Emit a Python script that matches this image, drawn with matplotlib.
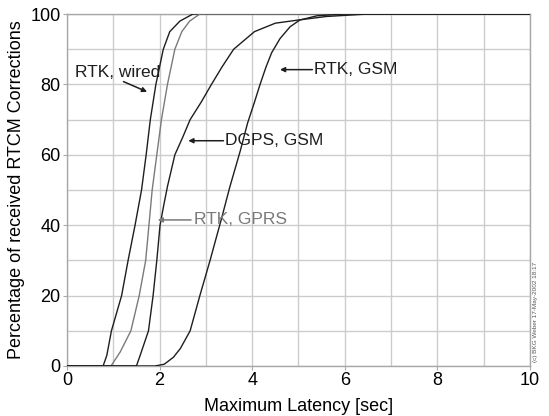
import matplotlib
matplotlib.use("Agg")
import matplotlib.pyplot as plt
from matplotlib.ticker import MultipleLocator

plt.rcParams['font.family'] = ['Liberation Sans', 'DejaVu Sans']

# ---- data (latency in sec, cumulative percentage) ----
wired_x = [0, 0.78, 0.86, 0.96, 1.18, 1.32, 1.47, 1.61, 1.71, 1.80, 1.92, 2.08, 2.22, 2.44, 2.72, 10]
wired_y = [0, 0, 3, 10, 20, 30, 40, 50, 60, 70, 80, 90, 95, 98, 100, 100]

gprs_x = [0, 0.95, 1.15, 1.38, 1.56, 1.70, 1.77, 1.84, 1.94, 2.04, 2.17, 2.33, 2.48, 2.65, 2.87, 10]
gprs_y = [0, 0, 4, 10, 20, 30, 40, 50, 60, 70, 80, 90, 95, 98, 100, 100]

dgps_x = [0, 1.50, 1.58, 1.76, 1.86, 1.94, 2.01, 2.08, 2.17, 2.33, 2.50, 2.66, 2.90, 3.12, 3.35,
          3.60, 3.78, 4.05, 4.50, 5.00, 5.60, 6.50, 10]
dgps_y = [0, 0, 3, 10, 20, 30, 40, 45, 51, 60, 65, 70, 75, 80, 85, 90, 92, 95, 97.4, 98.3, 99.3, 100, 100]

gsm_x = [0, 1.90, 2.10, 2.30, 2.45, 2.66, 2.87, 3.09, 3.34, 3.52, 3.74, 3.90, 4.05, 4.17,
         4.30, 4.42, 4.60, 4.82, 5.03, 5.40, 6.00, 10]
gsm_y = [0, 0, 0.5, 2.5, 5, 10, 20, 30, 42, 51, 61, 69, 75, 80, 85, 89, 93, 96.4, 98.3, 99.5, 100, 100]

x_ticks = [0, 2, 4, 6, 8, 10]
y_ticks = [0, 20, 40, 60, 80, 100]

dark = '#1e1e1e'
grey = '#7a7a7a'
gridc = '#cccccc'

fig = plt.figure(figsize=(5.49, 4.16), dpi=100)
ax = fig.add_axes([0.122, 0.1202, 0.8434, 0.8461])

ax.plot(wired_x, wired_y, color=dark, lw=1.0, zorder=3)
ax.plot(gprs_x, gprs_y, color=grey, lw=1.0, zorder=3)
ax.plot(dgps_x, dgps_y, color=dark, lw=1.0, zorder=3)
ax.plot(gsm_x, gsm_y, color=dark, lw=1.0, zorder=3)

ax.set_xlim(0, 10)
ax.set_ylim(0, 100)
ax.set_xticks(x_ticks)
ax.set_yticks(y_ticks)
ax.xaxis.set_minor_locator(MultipleLocator(1))
ax.yaxis.set_minor_locator(MultipleLocator(10))
ax.grid(True, which='both', color=gridc, lw=1.0, zorder=0)
ax.set_axisbelow(True)
for s in ax.spines.values():
    s.set_color('#a8a8a8')
    s.set_linewidth(1.0)
ax.tick_params(axis='both', which='major', labelsize=13, length=3, color='#a8a8a8', pad=1.5)
ax.tick_params(axis='both', which='minor', length=0)

ax.set_xlabel('Maximum Latency [sec]', fontsize=13, labelpad=6)
ax.set_ylabel('Percentage of received RTCM Corrections', fontsize=13, labelpad=4)

arrow_k = dict(arrowstyle='-|>', color=dark, lw=1.1, mutation_scale=7, shrinkA=0, shrinkB=0)
ax.annotate('', xy=(1.73, 77.9), xytext=(1.22, 80.8), arrowprops=arrow_k)
ax.text(0.17, 83.4, 'RTK, wired', fontsize=12.5, color=dark, va='center', ha='left')

ax.annotate('', xy=(2.62, 64.0), xytext=(3.38, 64.0), arrowprops=arrow_k)
ax.text(3.41, 64.0, 'DGPS, GSM', fontsize=12.5, color=dark, va='center', ha='left')

ax.annotate('', xy=(4.60, 84.2), xytext=(5.30, 84.2), arrowprops=arrow_k)
ax.text(5.33, 84.2, 'RTK, GSM', fontsize=12.5, color=dark, va='center', ha='left')

arrow_g = dict(arrow_k)
arrow_g['color'] = grey
ax.annotate('', xy=(1.96, 41.5), xytext=(2.68, 41.5), arrowprops=arrow_g)
ax.text(2.75, 41.5, 'RTK, GPRS', fontsize=12.5, color=grey, va='center', ha='left')

fig.text(0.975, 0.13, '(c) BKG Weber 17-May-2002 18:17', rotation=90, fontsize=4.6,
         color='#555555', ha='center', va='bottom')

fig.savefig('out.png', dpi=100)
